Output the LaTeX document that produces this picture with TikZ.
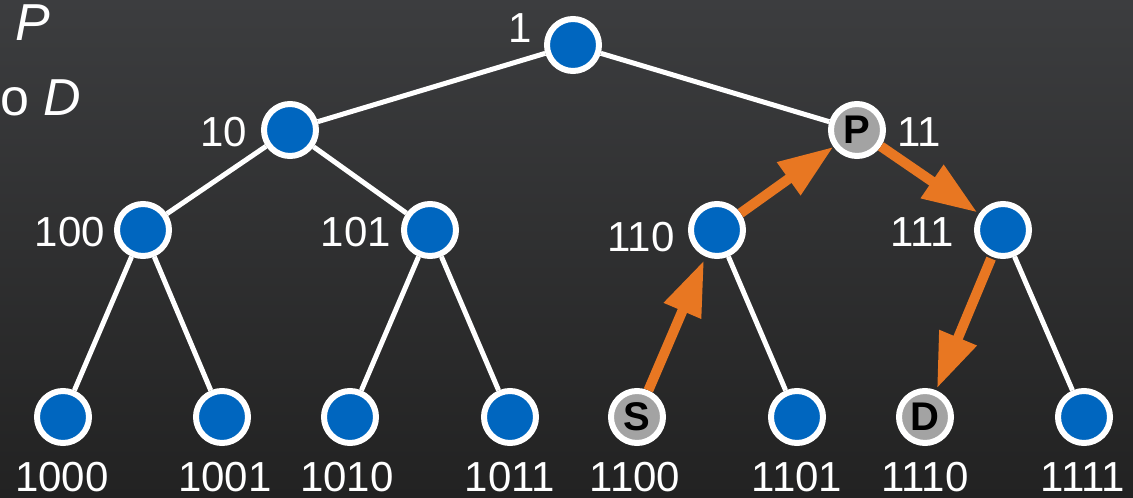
\documentclass[tikz,border=0pt]{standalone}
\usepackage{fontspec}
\setmainfont{Liberation Sans}
\usetikzlibrary{arrows.meta}
\pgfdeclarelayer{bg}
\pgfdeclarelayer{edges}
\pgfsetlayers{bg,edges,main}
\definecolor{bgtop}{RGB}{60,61,63}
\definecolor{bgbot}{RGB}{34,34,34}
\definecolor{nodeblue}{RGB}{0,102,191}
\definecolor{markgray}{RGB}{163,163,163}
\definecolor{pathorange}{RGB}{232,119,34}
\tikzset{
  treenode/.style={circle, draw=white, line width=6pt, fill=nodeblue,
    minimum size=52pt, inner sep=0pt},
  marknode/.style={treenode, fill=markgray, text=black,
    font=\fontsize{40}{44}\selectfont\bfseries},
  idlabel/.style={text=white, inner sep=0pt, font=\fontsize{42}{50}\selectfont},
  treeedge/.style={draw=white, line width=5pt},
  route/.style={draw=pathorange, line width=10pt,
    -{Triangle[length=55pt,width=38pt]}},
  note/.style={text=white, inner sep=0pt, font=\fontsize{52}{60}\selectfont}
}
\begin{document}
\begin{tikzpicture}[x=1pt,y=-1pt]
  \useasboundingbox (0,0) rectangle (1133,498);
  \begin{pgfonlayer}{bg}
    \shade[top color=bgtop, bottom color=bgbot] (0,0) rectangle (1133,498);
  \end{pgfonlayer}

  % heading fragments
  \node[note] (hp) at (33,23) {\textit{P}};
  \node[note, anchor=west] (hd) at (0,98) {o \textit{D}};

  % tree nodes
  \node[treenode] (n1) at (573,45) {};
  \node[treenode] (n10) at (290,130) {};
  \node[marknode] (n11) at (857,130) {P};
  \node[treenode] (n100) at (143,230) {};
  \node[treenode] (n101) at (430,230) {};
  \node[treenode] (n110) at (717,230) {};
  \node[treenode] (n111) at (1003,230) {};
  \node[treenode] (n1000) at (63,417) {};
  \node[treenode] (n1001) at (222,417) {};
  \node[treenode] (n1010) at (350,417) {};
  \node[treenode] (n1011) at (510,417) {};
  \node[marknode] (n1100) at (637,417) {S};
  \node[treenode] (n1101) at (797,417) {};
  \node[marknode] (n1110) at (925,417) {D};
  \node[treenode] (n1111) at (1084,417) {};

  % identifiers
  \node[idlabel] (l1) at (520,28) {1};
  \node[idlabel] (l10) at (224,132) {10};
  \node[idlabel] (l11) at (919,132) {11};
  \node[idlabel] (l100) at (70,232) {100};
  \node[idlabel] (l101) at (356,232) {101};
  \node[idlabel] (l110) at (641,237) {110};
  \node[idlabel] (l111) at (922,232) {111};
  \node[idlabel] (l1000) at (62,477) {1000};
  \node[idlabel] (l1001) at (225,477) {1001};
  \node[idlabel] (l1010) at (347,477) {1010};
  \node[idlabel] (l1011) at (510,477) {1011};
  \node[idlabel] (l1100) at (635,477) {1100};
  \node[idlabel] (l1101) at (797,477) {1101};
  \node[idlabel] (l1110) at (925,477) {1110};
  \node[idlabel] (l1111) at (1083,477) {1111};

  % tree edges
  \begin{pgfonlayer}{edges}
    \draw[treeedge] (n1) -- (n10);
    \draw[treeedge] (n1) -- (n11);
    \draw[treeedge] (n10) -- (n100);
    \draw[treeedge] (n10) -- (n101);
    \draw[treeedge] (n100) -- (n1000);
    \draw[treeedge] (n100) -- (n1001);
    \draw[treeedge] (n101) -- (n1010);
    \draw[treeedge] (n101) -- (n1011);
    \draw[treeedge] (n110) -- (n1101);
    \draw[treeedge] (n111) -- (n1111);
  \end{pgfonlayer}

  % route S -> P -> D
  \draw[route, shorten >=4pt] (n1100) -- (n110);
  \draw[route] (n110) -- (n11);
  \draw[route, shorten >=2pt] (n11) -- (n111);
  \draw[route, shorten <=2pt, shorten >=2pt] (n111) -- (n1110);
\end{tikzpicture}
\end{document}
